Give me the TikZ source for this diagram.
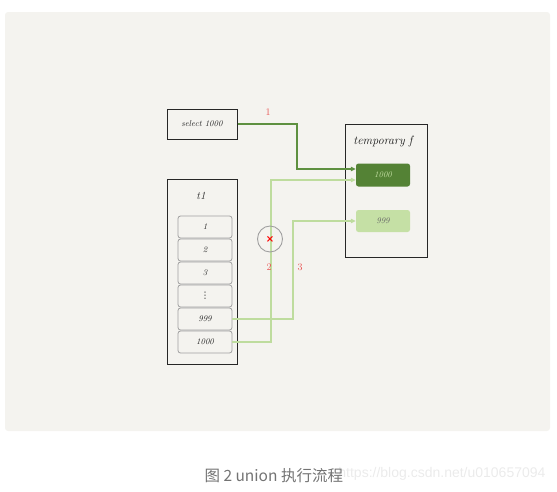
\documentclass[tikz,border=0pt]{standalone}
\usepackage{fontspec}
\newfontfamily\cjk{Noto Sans CJK SC}
\newfontfamily\wm{Liberation Sans}
\newfontfamily\dv{DejaVu Sans}
\usetikzlibrary{arrows.meta,shapes.geometric}
\definecolor{panel}{HTML}{F4F3EF}
\definecolor{dkgreen}{HTML}{548235}
\definecolor{ltgreen}{HTML}{C5E0A5}
\definecolor{lnlight}{HTML}{BEDC9E}
\definecolor{lndark}{HTML}{5E9040}
\definecolor{lbred}{HTML}{E85555}
\definecolor{rowgray}{HTML}{A0A0A0}
\tikzset{
  box/.style={draw=black!85, line width=1pt, fill=panel, inner sep=0pt},
  rowbox/.style={draw=rowgray, line width=0.8pt, rounded corners=2.5pt, fill=panel, minimum width=54pt, minimum height=22pt, inner sep=0pt, font=\fontsize{8.5}{9}\selectfont\itshape, text=black!85},
  hand/.style={font=\fontsize{8.5}{9}\selectfont\itshape, text=black!85},
  lab/.style={font=\fontsize{10}{11}\selectfont, text=lbred},
  darkln/.style={draw=lndark, line width=1.1pt},
  lightln/.style={draw=lnlight, line width=1.1pt},
  tip/.style={-{Triangle[length=5pt,width=4.5pt]}}
}
\begin{document}
\begin{tikzpicture}[x=1pt,y=-1pt]
\useasboundingbox (0,0) rectangle (557,491);
\fill[panel, rounded corners=3pt] (5,12) rectangle (550,431);
% select box
\node[box, minimum width=70pt, minimum height=30pt, hand] (sel) at (202,124) {select 1000};
% t1 box
\node[box, minimum width=70pt, minimum height=185pt] (t1) at (202,272) {};
\node[font=\fontsize{11}{12}\selectfont\itshape, text=black!85] (t1lab) at (201,196) {t1};
\node[rowbox] (r1) at (205,227) {1};
\node[rowbox] (r2) at (205,250) {2};
\node[rowbox] (r3) at (205,273) {3};
\node[rowbox, font=\dv\fontsize{9}{9}\selectfont] (r4) at (205,296) {⋮};
\node[rowbox] (r999) at (205,319) {999};
\node[rowbox] (r1000) at (205,342) {1000};
% temporary box
\node[box, minimum width=82pt, minimum height=133pt] (tmp) at (386,191) {};
\node[font=\fontsize{12}{13}\selectfont\itshape, text=black!90] (tmplab) at (383,141) {temporary f};
\node[fill=dkgreen, rounded corners=2.5pt, minimum width=54pt, minimum height=23pt, inner sep=0pt, font=\fontsize{8.5}{9}\selectfont\itshape, text=ltgreen] (f1000) at (383,175) {1000};
\node[fill=ltgreen, rounded corners=2.5pt, minimum width=54pt, minimum height=22pt, inner sep=0pt, font=\fontsize{8.5}{9}\selectfont\itshape, text=black!60] (f999) at (383,221) {999};
% connectors
\coordinate (c1a) at (297,124);
\coordinate (c1b) at (297,169);
\draw[darkln, tip] (sel.east) -- (c1a) -- (c1b) -- (c1b -| f1000.west);
\coordinate (c2a) at (271,342);
\coordinate (c2b) at (271,180);
\draw[lightln, tip] (r1000.east) -- (c2a) -- (c2b) -- (c2b -| f1000.west);
\coordinate (c3a) at (293,319);
\coordinate (c3b) at (293,221);
\draw[lightln, tip] (r999.east) -- (c3a) -- (c3b) -- (f999.west);
% ellipse with cross
\node[draw=rowgray, line width=0.9pt, ellipse, minimum width=25pt, minimum height=26pt, inner sep=0pt] (ell) at (270,239) {};
\node[text=red, font=\dv\bfseries\fontsize{10}{10}\selectfont, inner sep=0pt] (cross) at (270,239) {×};
% labels
\node[lab] (l1) at (268,112) {1};
\node[lab] (l2) at (269,267) {2};
\node[lab] (l3) at (300,267) {3};
% caption
\node[anchor=east, font=\wm\fontsize{14}{16}\selectfont, text=black!8] (wmk) at (549,474) {https://blog.csdn.net/u010657094};
\node[anchor=west, font=\cjk\fontsize{15.5}{17}\selectfont, text=black!55] (cap) at (201,476) {图 2 union 执行流程};
\end{tikzpicture}
\end{document}
